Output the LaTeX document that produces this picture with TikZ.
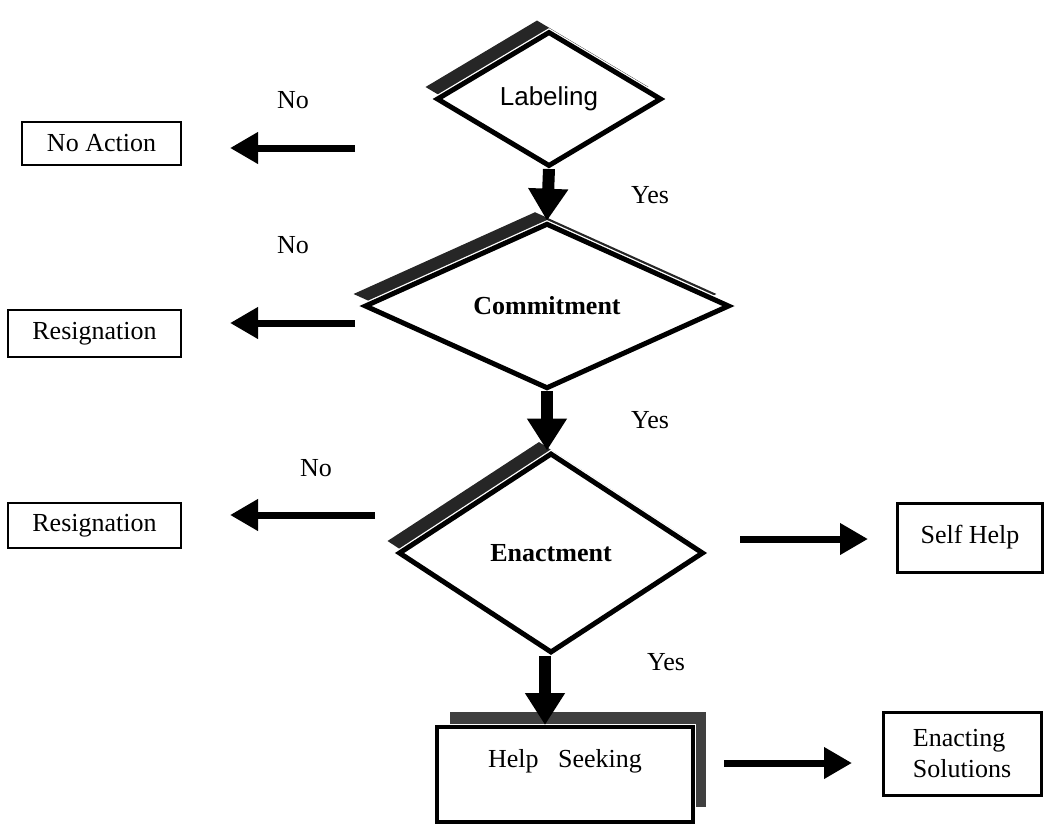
\documentclass[tikz,border=0pt]{standalone}
\usepackage{fontspec}
\setmainfont{Liberation Serif}
\newfontfamily\sansfont{Liberation Sans}
\usetikzlibrary{shapes.geometric,arrows.meta,shadows}

\begin{document}
\begin{tikzpicture}[x=0.5pt,y=-0.5pt,font=\fontsize{13}{15.6}\selectfont,
    decision/.style={diamond,draw,line width=2.5pt,fill=white,inner sep=0pt,
        general shadow={fill=black!85,shadow xshift=-6pt,shadow yshift=6pt},
        preaction={draw=white,line width=3.8pt}},
    outcome/.style={rectangle,draw,inner sep=0pt},
    hbar/.style={line width=3.5pt,-{Triangle[width=15pt,length=14pt]}},
    vbar/.style={line width=6pt,-{Triangle[width=19pt,length=16pt]}}]
    \useasboundingbox (0,0) rectangle (1046,825);
    % decisions
    \node[decision,minimum width=112.5pt,minimum height=67.5pt] (lab) at (549,99) {\sansfont Labeling};
    \node[decision,minimum width=182.5pt,minimum height=73pt] (com) at (547,306) {\textbf{Commitment}};
    \node[decision,minimum width=152.5pt,minimum height=100pt] (enac) at (551,553) {\textbf{Enactment}};
    % help seeking box
    \node[outcome,line width=2pt,fill=white,minimum width=128pt,minimum height=47.5pt,
        text height=20pt,text depth=27.5pt,
        general shadow={fill=black!75,shadow xshift=6.5pt,shadow yshift=7.5pt},
        preaction={draw=white,line width=3.2pt}] (help) at (565,774.5) {Help~~~Seeking};
    % outcome boxes
    \node[outcome,line width=0.8pt,minimum width=79.5pt,minimum height=21.5pt] (noact) at (101.5,143.5) {No Action};
    \node[outcome,line width=0.8pt,minimum width=86.5pt,minimum height=23.5pt] (res1) at (94.5,333.5) {Resignation};
    \node[outcome,line width=0.8pt,minimum width=86.5pt,minimum height=22.5pt] (res2) at (94.5,525.5) {Resignation};
    \node[outcome,line width=1.5pt,minimum width=72.5pt,minimum height=34.5pt] (self) at (970,537.5) {Self Help};
    \node[outcome,line width=1.5pt,minimum width=79pt,minimum height=41.5pt,align=left] (solv) at (962,753.5) {Enacting\\Solutions};
    % yes / no labels
    \node (no1) at (293,100) {No};
    \node (no2) at (293,245) {No};
    \node (no3) at (316,468) {No};
    \node (yes1) at (650,195) {Yes};
    \node (yes2) at (650,420) {Yes};
    \node (yes3) at (666,662) {Yes};
    % free arrow ends
    \coordinate (l1a) at (355,148);
    \coordinate (l1b) at (230,148);
    \coordinate (l2a) at (355,323);
    \coordinate (l2b) at (230,323);
    \coordinate (l3a) at (375,515);
    \coordinate (l3b) at (230,515);
    \coordinate (r1a) at (740,539);
    \coordinate (r1b) at (868,539);
    \coordinate (r2a) at (724,763);
    \coordinate (r2b) at (852,763);
    % arrows down the chain
    \draw[vbar] (lab.south) -- (com.north);
    \draw[vbar] (com.south) -- (com.south |- enac.north);
    \draw[vbar] ([xshift=-3pt]enac.south) -- ([xshift=-3pt]enac.south |- help.north);
    % side arrows
    \draw[hbar] (l1a) -- (l1b);
    \draw[hbar] (l2a) -- (l2b);
    \draw[hbar] (l3a) -- (l3b);
    \draw[hbar] (r1a) -- (r1b);
    \draw[hbar] (r2a) -- (r2b);
\end{tikzpicture}
\end{document}
